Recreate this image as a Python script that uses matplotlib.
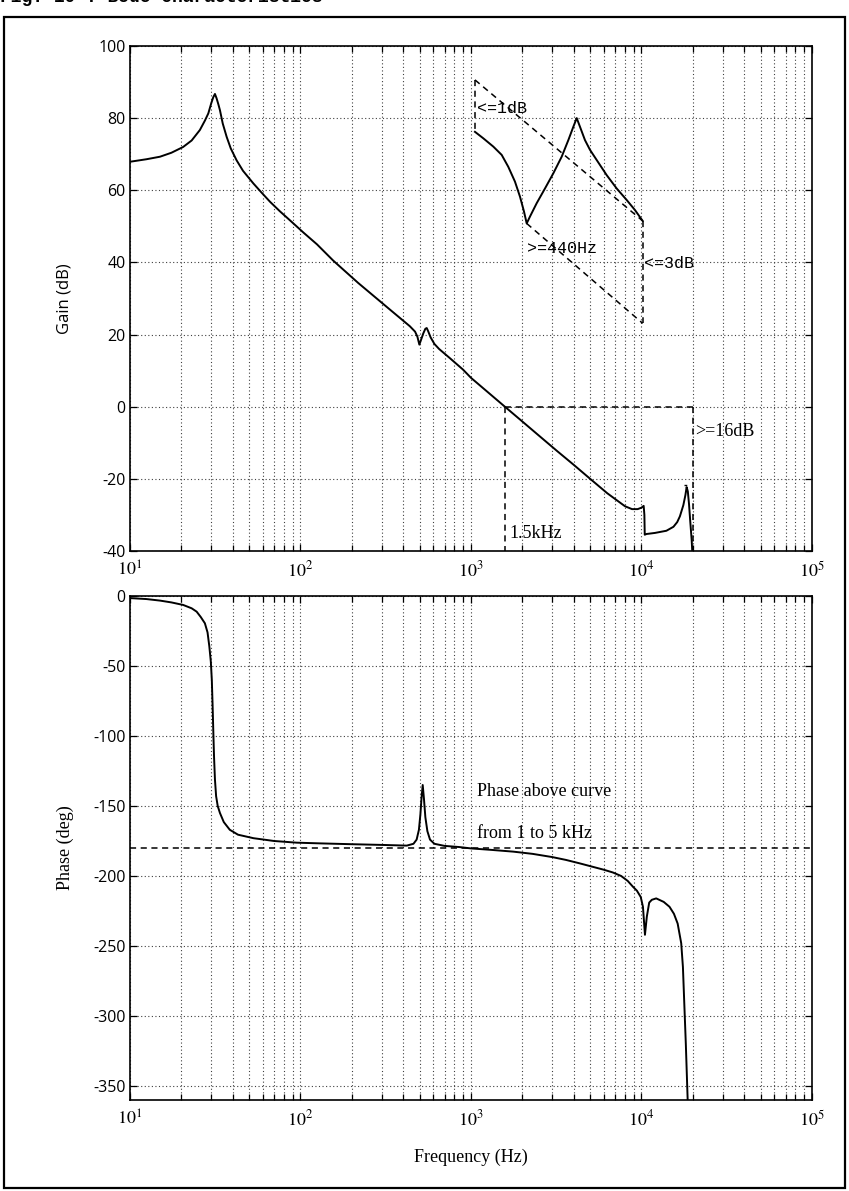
import matplotlib
matplotlib.use('Agg')
import matplotlib.pyplot as plt
from matplotlib.ticker import LogLocator, FixedLocator, FixedFormatter, NullFormatter
from matplotlib.patches import Rectangle

plt.rcParams['mathtext.fontset'] = 'stix'
plt.rcParams['axes.unicode_minus'] = False

# ---------------- data ----------------
gain_freq = [10, 12.5, 15, 17.5, 20.5, 23, 25.7, 27.5, 28.8, 30, 30.8, 31.5, 32.2, 33,
             33.7, 35, 36.9, 39, 42.2, 46, 52.9, 59, 66.3, 75.6, 88, 103.9, 125, 155.6,
             218, 335, 438, 470, 485, 498, 510, 525, 540, 550, 560, 580, 610, 650, 750,
             897, 1000, 1250, 1580, 2000, 2500, 3200, 4000, 5000, 6300, 8000, 8800, 9500,
             10000, 10300, 10400, 10450, 10700, 12000, 14000, 15400, 16200, 16800, 17600,
             18100, 18400, 18700, 19000, 19300, 19700, 20100, 20500]
gain_db = [67.9, 68.6, 69.3, 70.4, 72.0, 73.8, 76.7, 79.3, 81.3, 84.2, 85.8, 86.7, 85.5,
           83.8, 82.2, 78.5, 74.8, 71.6, 68.3, 65.4, 61.9, 59.4, 56.8, 54.2, 51.4, 48.3,
           45.0, 40.5, 34.3, 26.9, 22.3, 20.8, 19.4, 17.2, 18.6, 20.3, 21.6, 21.8, 21.0,
           19.2, 17.4, 16.0, 13.5, 10.3, 8.0, 4.1, 0.0, -4.1, -8.0, -12.3, -16.1, -20.0,
           -24.0, -27.6, -28.4, -28.4, -28.0, -27.5, -30.0, -35.5, -35.3, -35.0, -34.4,
           -33.3, -32.0, -30.4, -27.3, -24.5, -22.3, -23.5, -27.0, -31.5, -37.0, -45.0,
           -60.0]

phase_freq = [10, 12.5, 15, 17.5, 20.5, 23, 24.6, 26, 27.5, 28.5, 29.2, 29.8, 30.2, 30.5,
              30.8, 31.1, 31.5, 32, 32.7, 33.7, 35.5, 38.5, 43, 53, 70, 95, 130, 200, 300,
              420, 460, 480, 495, 505, 513, 521, 530, 540, 555, 575, 610, 700, 850, 1000,
              1300, 1770, 2300, 3000, 3600, 4350, 5200, 6000, 6800, 7600, 8300, 8900, 9400,
              9900, 10200, 10480, 10750, 11100, 11500, 12200, 13500, 14600, 15500, 16300,
              17100, 17500, 17800, 18200, 18600, 18900]
phase_deg = [-1.5, -2.2, -3.3, -4.6, -6.4, -8.8, -11.2, -15, -19.5, -26, -36, -47, -60, -77,
             -96, -114, -131, -143, -150, -155, -161.5, -167, -170.5, -173, -175, -176.2,
             -176.7, -177.3, -177.8, -178.3, -177, -174, -167, -156, -144, -135, -145, -158,
             -168, -174, -177, -178.5, -179.3, -180.3, -181.3, -182.6, -184.2, -186.5,
             -188.5, -191, -193.5, -195.5, -197.5, -200, -203.5, -207.6, -210.5, -215,
             -222, -242, -229, -219, -217, -216, -218.5, -222, -227, -234, -248, -265,
             -289, -320, -355, -380]

# magnified inset drawn inside the gain plot (coordinates of the gain axes)
inset_freq = [1055, 1181, 1352, 1514, 1655, 1811, 1939, 2046, 2122, 2218, 2428, 2717,
              3041, 3404, 3724, 3984, 4170, 4358, 4662, 4989, 5458, 6248, 7152, 8188,
              9163, 10165]
inset_db = [76.2, 74.4, 72.1, 69.8, 66.5, 62.4, 58.2, 54.1, 50.8, 52.7, 56.4, 60.5,
            64.7, 69.3, 73.9, 77.6, 80.0, 77.6, 73.9, 71.2, 68.4, 64.2, 60.5, 57.3,
            54.5, 51.5]

gain_ticks = [-40, -20, 0, 20, 40, 60, 80, 100]
phase_ticks = [-350, -300, -250, -200, -150, -100, -50, 0]
freq_ticks = [1e1, 1e2, 1e3, 1e4, 1e5]
freq_labels = ['$10^{1}$', '$10^{2}$', '$10^{3}$', '$10^{4}$', '$10^{5}$']

# ---------------- figure ----------------
fig = plt.figure(figsize=(8.49, 11.91), dpi=100)
ax1 = fig.add_axes([0.1531, 0.5374, 0.8033, 0.4240])
ax2 = fig.add_axes([0.1531, 0.0764, 0.8033, 0.4232])

SANS = ['Open Sans', 'DejaVu Sans']
SERIF = ['Liberation Serif', 'DejaVu Serif']
MONO = ['Liberation Mono', 'DejaVu Sans Mono']

for ax, yt, ylim in ((ax1, gain_ticks, (-40, 100)), (ax2, phase_ticks, (-360, 0))):
    ax.set_xscale('log')
    ax.set_xlim(10, 1e5)
    ax.set_ylim(*ylim)
    ax.xaxis.set_major_locator(FixedLocator(freq_ticks))
    ax.xaxis.set_major_formatter(FixedFormatter(freq_labels))
    ax.xaxis.set_minor_locator(LogLocator(base=10, subs=range(2, 10), numticks=20))
    ax.xaxis.set_minor_formatter(NullFormatter())
    ax.yaxis.set_major_locator(FixedLocator(yt))
    ax.tick_params(which='both', direction='in', top=True, right=True, width=0.9)
    ax.tick_params(which='major', length=5)
    ax.tick_params(which='minor', length=4)
    ax.tick_params(axis='x', labelsize=13, pad=7)
    ax.tick_params(axis='y', labelsize=11.5, pad=3)
    for lab in ax.get_xticklabels():
        lab.set_family(SERIF)
    for lab in ax.get_yticklabels():
        lab.set_family(SANS)
    ax.grid(True, which='both', axis='x', color='0.25', linestyle=(0, (1, 2.2)), linewidth=0.8)
    ax.grid(True, which='major', axis='y', color='0.25', linestyle=(0, (1, 2.2)), linewidth=0.8)
    for s in ax.spines.values():
        s.set_linewidth(1.2)

# gain
ax1.plot(gain_freq, gain_db, color='black', linewidth=1.4, clip_on=True)
ax1.set_ylabel('Gain (dB)', family=SANS, fontsize=12, labelpad=19)

dash = dict(color='black', linewidth=1.1, linestyle=(0, (4, 3)))
# crossover / margin construction
ax1.plot([1580, 1580], [0, -40], **dash)
ax1.plot([1580, 20100], [0, 0], **dash)
ax1.plot([20100, 20100], [0, -40], **dash)
ax1.plot([17800, 18700], [-21.6, -21.6], color='black', linewidth=1.0, linestyle=(0, (2, 2)))
ax1.text(20700, -7, '>=16dB', family=SERIF, fontsize=13, va='center', ha='left')
ax1.text(1680, -35.2, '1.5kHz', family=SERIF, fontsize=13, va='center', ha='left')

# inset
ax1.plot(inset_freq, inset_db, color='black', linewidth=1.4)
ax1.plot([inset_freq[0], inset_freq[0]], [90.6, inset_db[0]], **dash)
ax1.plot([inset_freq[0], inset_freq[-1]], [90.6, inset_db[-1]], **dash)
ax1.plot([inset_freq[8], inset_freq[-1]], [inset_db[8], 23.1], **dash)
ax1.plot([inset_freq[-1], inset_freq[-1]], [inset_db[-1], 23.1], **dash)
ax1.text(1090, 82.8, '<=1dB', family=MONO, fontsize=12, va='center', ha='left')
ax1.text(2123, 43.9, '>=440Hz', family=MONO, fontsize=12, va='center', ha='left')
ax1.text(10350, 39.8, '<=3dB', family=MONO, fontsize=12, va='center', ha='left')

# phase
ax2.plot(phase_freq, phase_deg, color='black', linewidth=1.4)
ax2.plot([10, 1e5], [-180, -180], **dash)
ax2.text(1080, -140, 'Phase above curve', family=SERIF, fontsize=13, va='center', ha='left')
ax2.text(1080, -169.5, 'from 1 to 5 kHz', family=SERIF, fontsize=13, va='center', ha='left')
ax2.set_ylabel('Phase (deg)', family=SERIF, fontsize=13, labelpad=14)
ax2.set_xlabel('Frequency (Hz)', family=SERIF, fontsize=13, labelpad=14)

# page frame and clipped caption
fig.patches.append(Rectangle((0.0047, 0.0025), 0.9906, 0.9832, transform=fig.transFigure,
                             fill=False, edgecolor='black', linewidth=1.6))
fig.text(0.0, 1.002, 'Fig. 10 : Bode characteristics', family=MONO, fontsize=13,
         fontweight='bold', va='center', ha='left')

fig.savefig('out.png', dpi=100)
